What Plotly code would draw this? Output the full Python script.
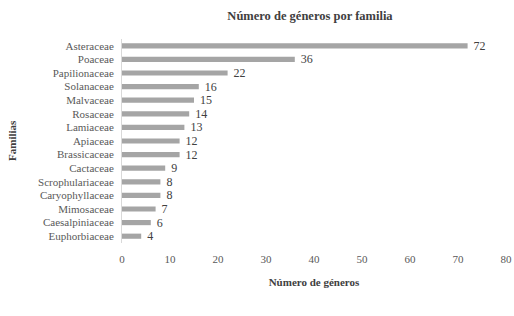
import plotly.graph_objects as go

families = ["Asteraceae", "Poaceae", "Papilionaceae", "Solanaceae", "Malvaceae",
            "Rosaceae", "Lamiaceae", "Apiaceae", "Brassicaceae", "Cactaceae",
            "Scrophulariaceae", "Caryophyllaceae", "Mimosaceae", "Caesalpiniaceae",
            "Euphorbiaceae"]
genera = [72, 36, 22, 16, 15, 14, 13, 12, 12, 9, 8, 8, 7, 6, 4]
x_ticks = [0, 10, 20, 30, 40, 50, 60, 70, 80]

font_family = "Liberation Serif"
txt = "#595959"

fig = go.Figure(go.Bar(
    x=genera, y=families, orientation="h",
    marker=dict(color="#a5a5a5", line=dict(width=0)),
    width=0.38,
    text=["\u2002" + str(v) for v in genera], textposition="outside",
    constraintext="none",
    textfont=dict(family=font_family, size=12, color="#404040"),
    cliponaxis=False,
    hoverinfo="skip",
))

fig.update_layout(
    width=514, height=316,
    margin=dict(l=122, r=8, t=39, b=73, autoexpand=False),
    paper_bgcolor="white", plot_bgcolor="white",
    showlegend=False,
    title=dict(text="<b>Número de géneros por familia</b>", x=310/514, xanchor="center",
               y=1 - 16/316, yanchor="middle",
               font=dict(family=font_family, size=12.5, color="#404040")),
    xaxis=dict(range=[0, 80], tickvals=x_ticks, showgrid=False, zeroline=False,
               showline=False, ticks="outside", ticklen=6, tickcolor="white",
               automargin=False,
               tickfont=dict(family=font_family, size=11, color=txt),
               title=dict(text="<b>Número de géneros</b>", standoff=14,
                          font=dict(family=font_family, size=11, color="#404040"))),
    yaxis=dict(categoryorder="array", categoryarray=families[::-1], automargin=False,
               showgrid=False, zeroline=False, showline=True, linecolor="#d9d9d9",
               linewidth=1, ticks="outside", ticklen=5, tickcolor="white",
               tickfont=dict(family=font_family, size=11, color=txt)),
    annotations=[dict(text="<b>Familias</b>", textangle=-90, xref="paper", yref="paper",
                      x=(12 - 122) / 384, y=0.5, xanchor="center", yanchor="middle",
                      showarrow=False,
                      font=dict(family=font_family, size=11, color="#404040"))],
    bargap=0.6,
)

fig.write_html("out.html", config={"displayModeBar": False},
               post_script="document.body.style.margin='0';")
